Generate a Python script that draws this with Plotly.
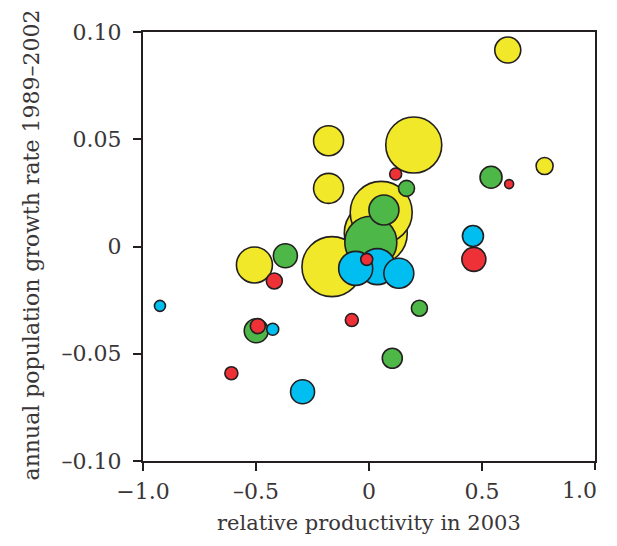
import plotly.graph_objects as go

# ---- data ----
yellow_x = [0.614, 0.198, -0.179, -0.179, 0.777, -0.507, -0.164, 0.054, 0.030]
yellow_y = [0.0916, 0.0473, 0.0493, 0.0271, 0.0375, -0.0086, -0.0094, 0.0159, 0.0062]
yellow_s = [13, 28, 15, 15, 8.5, 18, 30, 31, 31.5]

green_x = [0.066, 0.008, 0.166, 0.540, -0.370, -0.499, 0.223, 0.103]
green_y = [0.0170, 0.0020, 0.0271, 0.0323, -0.0043, -0.0393, -0.0288, -0.0521]
green_s = [15, 26, 8, 11, 12, 12, 8, 10]

cyan_x = [0.460, -0.059, 0.037, 0.132, -0.925, -0.426, -0.294]
cyan_y = [0.0049, -0.0102, -0.0094, -0.0125, -0.0277, -0.0386, -0.0677]
cyan_s = [10.5, 17, 18, 15, 5.5, 6, 12]

red_x = [0.118, 0.620, 0.464, -0.010, -0.419, -0.492, -0.076, -0.609]
red_y = [0.0338, 0.0291, -0.0060, -0.0060, -0.0161, -0.0371, -0.0343, -0.0591]
red_s = [6, 4.5, 12, 6, 8, 7.5, 6.5, 6.5]

x_ticks = [-1.0, -0.5, 0, 0.5, 1.0]
x_labels = ["\u22121.0", "\u20130.5", "0", "0.5", "1.0"]
y_ticks = [0.10, 0.05, 0, -0.05, -0.10]
y_labels = ["0.10", "0.05", "0", "\u20130.05", "\u20130.10"]

colors = {"yellow": "#F1E829", "green": "#4DB748", "cyan": "#00BFF0", "red": "#EE3137"}

groups = [
    ("yellow", yellow_x, yellow_y, yellow_s),
    ("green", green_x, green_y, green_s),
    ("cyan", cyan_x, cyan_y, cyan_s),
    ("red", red_x, red_y, red_s),
]

pts = []
for name, xs, ys, ss in groups:
    for a, b, s in zip(xs, ys, ss):
        pts.append((s, a, b, colors[name]))
pts.sort(key=lambda p: -p[0])  # larger bubbles drawn first

fig = go.Figure()
fig.add_trace(go.Scatter(
    x=[p[1] for p in pts],
    y=[p[2] for p in pts],
    mode="markers",
    marker=dict(
        size=[2 * p[0] for p in pts],
        sizemode="diameter",
        color=[p[3] for p in pts],
        opacity=1,
        line=dict(color="#231F20", width=1.6),
    ),
    hoverinfo="x+y",
    showlegend=False,
))
# empty trace so the overlay axis carrying the last x tick label is drawn
fig.add_trace(go.Scatter(x=[], y=[], xaxis="x2", showlegend=False, hoverinfo="skip"))

font_family = "DejaVu Serif, serif"
txt_color = "#3A3637"
tick_style = dict(
    showgrid=False, zeroline=False,
    ticks="outside", ticklen=8, tickwidth=2, tickcolor="#231F20",
    tickfont=dict(family=font_family, size=22, color=txt_color),
)

# The page body adds an 8 px margin on every side; keep the whole figure
# inside the window (no overflow) so the plot box lands at 143..597 x 32..461.
fig.update_layout(
    width=601, height=530,
    margin=dict(l=135, r=12, t=24, b=77),
    paper_bgcolor="white", plot_bgcolor="white",
    xaxis=dict(range=[-1.0, 1.0], tickvals=x_ticks[:-1], ticktext=x_labels[:-1],
               showline=True, linecolor="#231F20", linewidth=2, mirror=True,
               ticklabelstandoff=2, **tick_style),
    # last label is right-aligned at its tick so it stays inside the page
    xaxis2=dict(range=[-1.0, 1.0], overlaying="x", anchor="y", side="bottom",
                tickvals=x_ticks[-1:], ticktext=x_labels[-1:], showline=False,
                ticklabelposition="outside left", ticklabelshift=3,
                ticklabelstandoff=10, **tick_style),
    yaxis=dict(range=[-0.10, 0.10], tickvals=y_ticks, ticktext=y_labels,
               showline=True, linecolor="#231F20", linewidth=2, mirror=True,
               ticklabelstandoff=7, **tick_style),
    annotations=[
        dict(text="relative productivity in 2003", xref="paper", yref="paper",
             x=0.5, y=-0.1445, xanchor="center", yanchor="middle", showarrow=False,
             font=dict(family=font_family, size=21, color=txt_color)),
        dict(text="annual population growth rate 1989\u20132002", xref="paper", yref="paper",
             x=-0.2445, y=0.5035, xanchor="center", yanchor="middle", showarrow=False,
             textangle=-90,
             font=dict(family=font_family, size=22, color=txt_color)),
    ],
)

fig.write_html("out.html")
